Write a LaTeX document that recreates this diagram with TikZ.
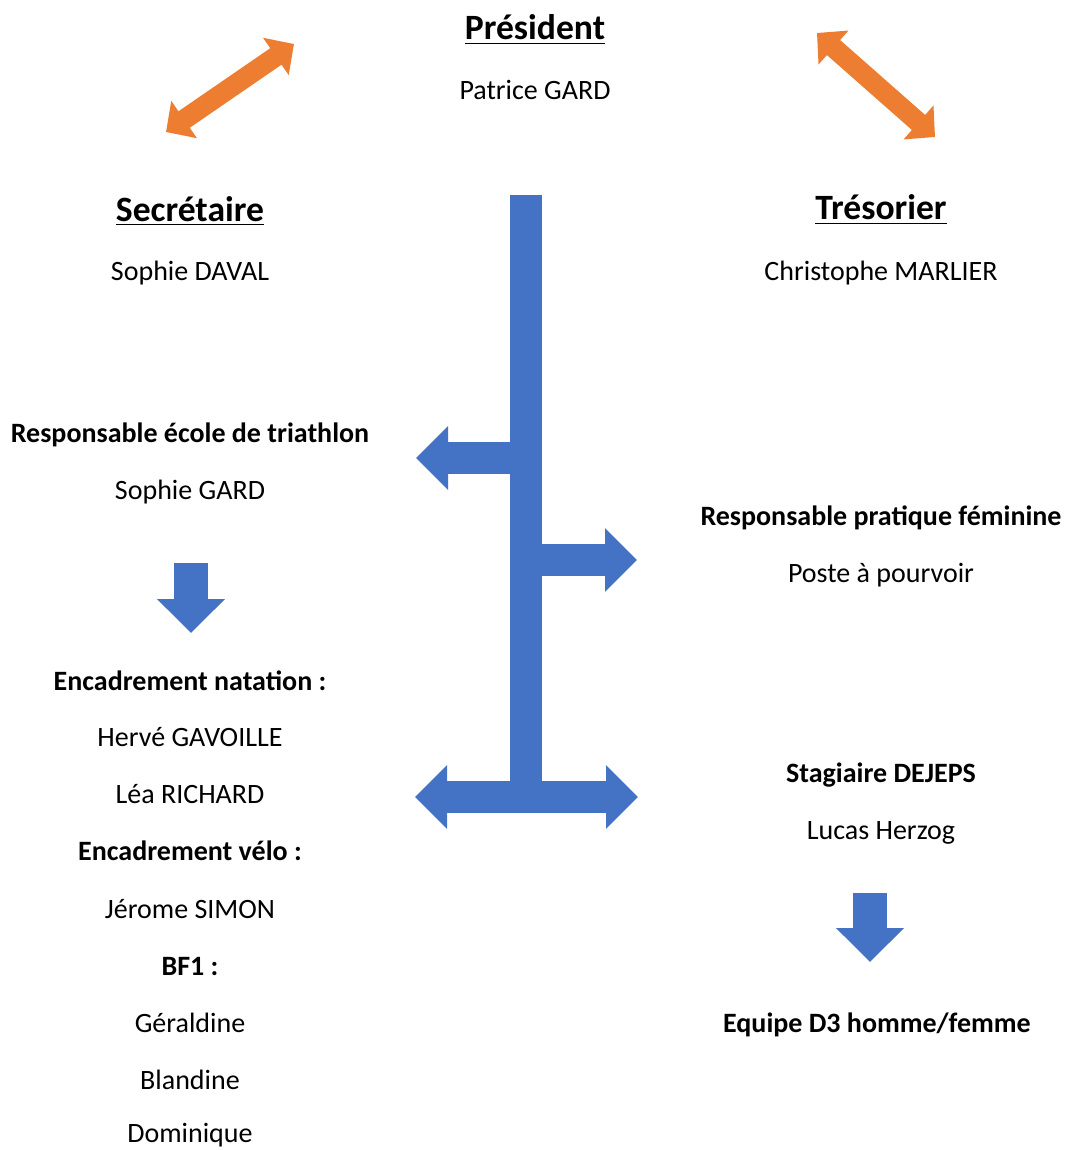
\documentclass[tikz,border=0pt]{standalone}
\usepackage{fontspec}
\setmainfont{Carlito}
\usetikzlibrary{arrows.meta}
\definecolor{orng}{HTML}{ED7D31}
\definecolor{blu}{HTML}{4472C4}
\begin{document}
\begin{tikzpicture}[x=0.5pt,y=-0.5pt,
  txt/.style={font=\fontsize{14}{16}\selectfont, inner sep=0pt, anchor=base},
  bld/.style={font=\fontsize{14}{16}\selectfont\bfseries, inner sep=0pt, anchor=base},
  hd/.style={font=\fontsize{17.8}{20}\selectfont\bfseries, inner sep=0pt, anchor=base},
  oarrow/.style={draw=orng, line width=10pt, {Triangle[length=11pt,width=22pt]}-{Triangle[length=11pt,width=22pt]}},
  barrow/.style={draw=blu, line width=16pt, -{Triangle[length=16pt,width=31pt]}},
  bdouble/.style={draw=blu, line width=16pt, {Triangle[length=16pt,width=31pt]}-{Triangle[length=16pt,width=31pt]}},
  darrow/.style={draw=blu, line width=17pt, -{Triangle[length=17pt,width=33pt]}},
  bbar/.style={draw=blu, line width=16pt, line cap=butt}
]
\useasboundingbox (0,0) rectangle (1067,1150);

% texts
\node[hd] (pres) at (535,40) {\underline{Président}};
\node[txt] (presn) at (535,100) {Patrice GARD};
\node[hd] (sec) at (190,221) {\underline{Secrétaire}};
\node[txt] (secn) at (190,280) {Sophie DAVAL};
\node[hd] (tres) at (881,220) {\underline{Trésorier}};
\node[txt] (tresn) at (881,280) {Christophe MARLIER};
\node[bld] (ecole) at (190,442) {Responsable école de triathlon};
\node[txt] (ecolen) at (190,499) {Sophie GARD};
\node[bld] (fem) at (881,525) {Responsable pratique féminine};
\node[txt] (femn) at (881,582) {Poste à pourvoir};
\node[bld] (nat) at (190,690) {Encadrement natation :};
\node[txt] (nat1) at (190,746) {Hervé GAVOILLE};
\node[txt] (nat2) at (190,803) {Léa RICHARD};
\node[bld] (velo) at (190,860) {Encadrement vélo :};
\node[txt] (velo1) at (190,918) {Jérome SIMON};
\node[bld] (bf) at (190,975) {BF1 :};
\node[txt] (bf1) at (190,1032) {Géraldine};
\node[txt] (bf2) at (190,1089) {Blandine};
\node[txt] (bf3) at (190,1142) {Dominique};
\node[bld] (stag) at (881,782) {Stagiaire DEJEPS};
\node[txt] (stagn) at (881,839) {Lucas Herzog};
\node[bld] (equipe) at (877,1032) {Equipe D3 homme/femme};

% coordinates
\coordinate (oL1) at (166,132);
\coordinate (oL2) at (294,44);
\coordinate (oR1) at (817,33);
\coordinate (oR2) at (935,137);
\coordinate (vTop) at (526,195);
\coordinate (vBot) at (526,812);
\coordinate (lA) at (526,458);
\coordinate (lTip) at (416,458);
\coordinate (rA) at (526,560);
\coordinate (rTip) at (637,560);
\coordinate (bL) at (415,797);
\coordinate (bR) at (638,797);
\coordinate (d1s) at (191,563);
\coordinate (d1e) at (191,633);
\coordinate (d2s) at (870,893);
\coordinate (d2e) at (870,962);

% orange arrows
\draw[oarrow] (oL1) -- (oL2);
\draw[oarrow] (oR1) -- (oR2);

% blue structure
\draw[bbar] (vTop) -- (vBot);
\draw[barrow] (lA) -- (lTip);
\draw[barrow] (rA) -- (rTip);
\draw[bdouble] (bL) -- (bR);
\draw[darrow] (d1s) -- (d1e);
\draw[darrow] (d2s) -- (d2e);
\end{tikzpicture}
\end{document}
